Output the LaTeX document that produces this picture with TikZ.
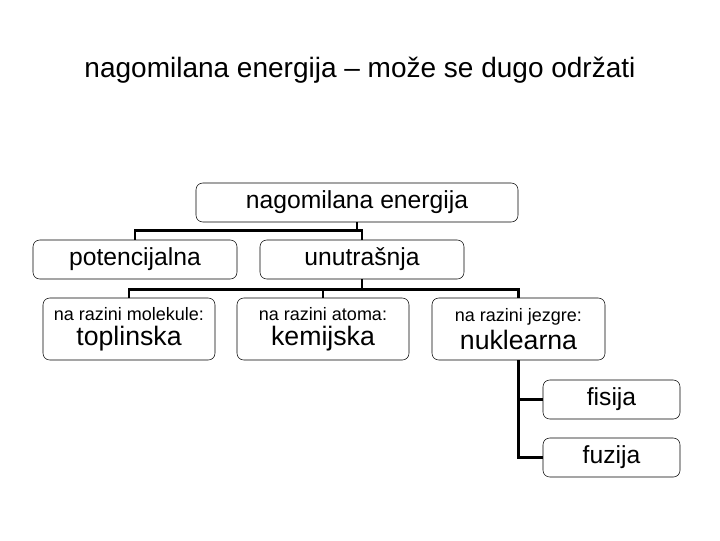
\documentclass[tikz,border=0pt]{standalone}
\usepackage{fontspec}
\setmainfont{Liberation Sans}
\begin{document}
\begin{tikzpicture}[x=0.75pt,y=-0.75pt,
  box/.style={draw,thin,rounded corners=5pt,fill=white,align=center,inner sep=0pt},
  con/.style={line width=2.2pt}]
\useasboundingbox (0,0) rectangle (720,540);
\node (title) at (360,70) {\fontsize{21}{25}\selectfont nagomilana energija -- može se dugo održati};
\node[box,minimum width=322*0.75pt,minimum height=39*0.75pt] (top) at (357,202.5) {\fontsize{18.5}{22}\selectfont nagomilana energija};
\node[box,minimum width=204*0.75pt,minimum height=39*0.75pt] (pot) at (135,259.5) {\fontsize{18.5}{22}\selectfont potencijalna};
\node[box,minimum width=204*0.75pt,minimum height=39*0.75pt] (unu) at (362,259.5) {\fontsize{18.5}{22}\selectfont unutrašnja};
\node[box,minimum width=172*0.75pt,minimum height=62*0.75pt] (top1) at (129,329) {\fontsize{13.5}{16}\selectfont na razini molekule:\\[3pt]\fontsize{20}{22}\selectfont toplinska};
\node[box,minimum width=172*0.75pt,minimum height=62*0.75pt] (kem) at (323,329) {\fontsize{13.5}{16}\selectfont na razini atoma:\\[3pt]\fontsize{20}{22}\selectfont kemijska};
\node[box,minimum width=173*0.75pt,minimum height=62*0.75pt] (nuk) at (518.5,329) {\fontsize{13.5}{16}\selectfont na razini jezgre:\\[3pt]\fontsize{20}{22}\selectfont nuklearna};
\node[box,minimum width=137*0.75pt,minimum height=39*0.75pt] (fis) at (611.5,399.5) {\fontsize{18.5}{22}\selectfont fisija};
\node[box,minimum width=137*0.75pt,minimum height=39*0.75pt] (fuz) at (611.5,457.5) {\fontsize{18.5}{22}\selectfont fuzija};
\draw[con] (top.south) -- ++(0,8) coordinate (j1);
\draw[con] (pot.north) |- (j1) -| (unu.north);
\draw[con] (unu.south) -- ++(0,10) coordinate (j2);
\draw[con] (top1.north) |- (j2) -| (nuk.north);
\draw[con] (kem.north) -- (kem.north |- j2);
\draw[con] (nuk.south) |- (fuz.west);
\draw[con] (nuk.south |- fis.west) -- (fis.west);
\end{tikzpicture}
\end{document}
